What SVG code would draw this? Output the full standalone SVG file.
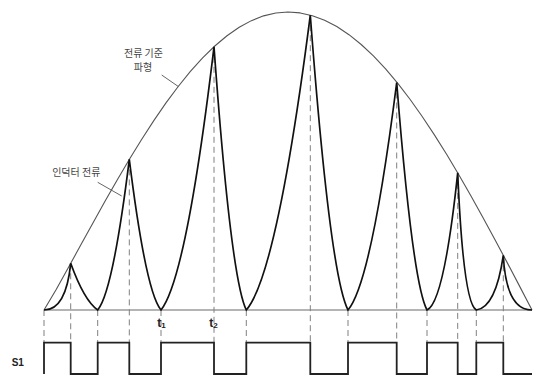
<svg xmlns="http://www.w3.org/2000/svg" width="536" height="376" viewBox="0 0 536 376">
<style>
.lbl{font-family:"Noto Sans CJK KR","Noto Sans",sans-serif;font-size:10px;fill:#444;text-anchor:middle}
.b{font-family:"Liberation Sans",Arial,sans-serif;font-weight:bold;fill:#222}
.guide{stroke:#808080;stroke-width:1;stroke-dasharray:6,4;fill:none}
.lead{stroke:#666;stroke-width:1;fill:none}
</style>
<rect width="536" height="376" fill="#fff"/>
<g id="axis">
<line x1="44" y1="310" x2="532" y2="310" stroke="#b4b4b4" stroke-width="1.8"/>
</g>
<g id="connectors">
<g id="guides" class="guide">
<line x1="44" y1="310" x2="44" y2="342.7"/>
<line x1="70.7" y1="263.3" x2="70.7" y2="342.7"/>
<line x1="97.7" y1="310" x2="97.7" y2="342.7"/>
<line x1="129.3" y1="159.4" x2="129.3" y2="342.7"/>
<line x1="161" y1="310" x2="161" y2="342.7"/>
<line x1="214" y1="46.8" x2="214" y2="342.7"/>
<line x1="246.3" y1="310" x2="246.3" y2="342.7"/>
<line x1="310.3" y1="15.2" x2="310.3" y2="342.7"/>
<line x1="348" y1="310" x2="348" y2="342.7"/>
<line x1="396.7" y1="82.5" x2="396.7" y2="342.7"/>
<line x1="427" y1="310" x2="427" y2="342.7"/>
<line x1="457.7" y1="172.9" x2="457.7" y2="342.7"/>
<line x1="476.3" y1="310" x2="476.3" y2="342.7"/>
<line x1="503.3" y1="255.3" x2="503.3" y2="342.7"/>
</g>
<line class="lead" x1="161.7" y1="75" x2="178.3" y2="86.5"/>
<line class="lead" x1="97.7" y1="182.3" x2="121.7" y2="196"/>
</g>
<g id="reference-waveform">
<polyline fill="none" stroke="#555" stroke-width="1.1" stroke-linejoin="round" points="44,310 56.2,289.41 68.4,267.51 80.6,245.32 92.8,223.16 105,201.31 117.2,179.95 129.4,159.26 141.6,139.43 153.8,120.6 166,102.9 178.2,86.48 190.4,71.45 202.6,57.93 214.8,46 227,35.77 239.2,27.3 251.4,20.64 263.6,15.85 275.8,12.96 288,12 300.2,12.92 312.4,15.67 324.6,20.23 336.8,26.58 349,34.68 361.2,44.48 373.4,55.91 385.6,68.91 397.8,83.4 410,99.28 422.2,116.46 434.4,134.84 446.6,154.29 458.8,174.71 471,195.96 483.2,217.91 495.4,240.43 507.6,263.38 519.8,286.62 532,310"/>
</g>
<g id="inductor-current">
<path fill="none" stroke="#111" stroke-width="1.7" d="M44,310 Q66,310 70.7,263.3 Q84.2,300.7 97.7,310 Q112.9,291.9 129.3,159.4 Q145.8,291.9 161,310 Q186.4,278.4 214,46.8 Q230.8,278.4 246.3,310 Q277,274.6 310.3,15.2 Q329.9,274.6 348,310 Q371.4,282.7 396.7,82.5 Q412.5,282.7 427,310 Q443.9,303 457.7,172.9 Q463.3,303 476.3,310 Q495.7,307.3 503.3,255.3 Q506,310 532,310"/>
</g>
<g id="s1-signal">
<path fill="none" stroke="#222" stroke-width="1.8" d="M44,374 V342.7 H70.7 V374 H97.7 V342.7 H129.3 V374 H161 V342.7 H214 V374 H246.3 V342.7 H310.3 V374 H348 V342.7 H396.7 V374 H427 V342.7 H457.7 V374 H476.3 V342.7 H503.3 V374 H532"/>
</g>
<g id="label-reference">
<text class="lbl" x="143.5" y="57">전류 기준</text>
<text class="lbl" x="143" y="70.5">파형</text>
</g>
<g id="label-inductor">
<text class="lbl" x="76.3" y="175.5">인덕터 전류</text>
</g>
<g id="label-t1">
<text class="b" x="157.3" y="327" font-size="12">t<tspan font-size="8" dy="1">1</tspan></text>
</g>
<g id="label-t2">
<text class="b" x="209.3" y="327" font-size="12">t<tspan font-size="8" dy="1">2</tspan></text>
</g>
<g id="label-s1">
<text class="b" x="11.7" y="366" font-size="10">S1</text>
</g>
</svg>
